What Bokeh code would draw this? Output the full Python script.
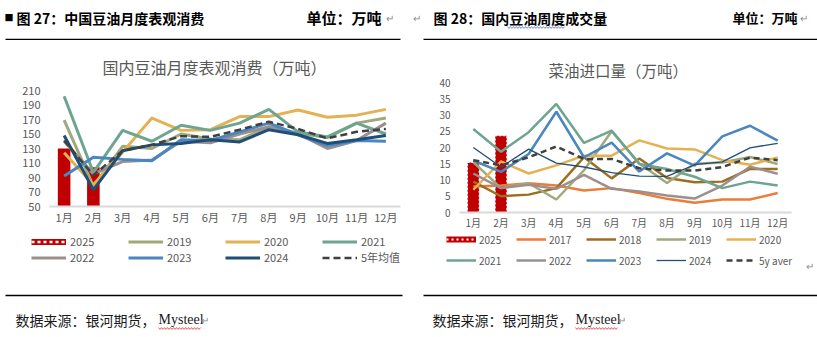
from bokeh.plotting import figure
from bokeh.layouts import column, row
from bokeh.models import Range1d, FactorRange, FixedTicker, Legend, LegendItem
from bokeh.embed import file_html
from bokeh.resources import INLINE
from bokeh.core.properties import value

FONT = "Noto Sans CJK SC"
SERIF = "Liberation Serif"
GRAY = "#595959"

months = ["1月", "2月", "3月", "4月", "5月", "6月", "7月", "8月", "9月", "10月", "11月", "12月"]

# ---------------- Figure 27: soybean oil apparent consumption ----------------
soy_title = "国内豆油月度表观消费（万吨）"
soy_yticks = [50, 70, 90, 110, 130, 150, 170, 190, 210]
soy_2025 = [130, 104]
soy_2019 = [169, 78, 133, 130, 150, 143, 142, 160, 151, 145, 165, 172]
soy_2020 = [124, 80, 125, 172, 155, 156, 174, 174, 183, 173, 176, 184]
soy_2021 = [202, 97, 155, 140, 162, 155, 165, 184, 153, 146, 165, 150]
soy_2022 = [140, 95, 112, 114, 140, 138, 150, 160, 150, 130, 141, 165]
soy_2023 = [92, 118, 115, 113, 142, 141, 153, 165, 149, 134, 141, 140]
soy_2024 = [148, 73, 127, 135, 137, 142, 139, 156, 149, 137, 142, 148]
soy_avg = [141, 93, 127, 135, 147, 146, 156, 167, 157, 144, 153, 157]
soy_avg_label = "5年均值"

# ---------------- Figure 28: rapeseed oil imports ----------------
rap_title = "菜油进口量（万吨）"
rap_yticks = [0, 5, 10, 15, 20, 25, 30, 35, 40]
rap_2025 = [15.4, 23.6]
rap_2017 = [8, 8.3, 9, 8.3, 6.8, 7.5, 6, 4.2, 3, 4, 4, 6]
rap_2018 = [9.5, 5, 5.5, 7.5, 17, 10.5, 16.6, 10.6, 9.3, 9.5, 13.4, 13.4]
rap_2019 = [15.5, 7.5, 9, 4, 13, 25, 15.1, 9.1, 15, 15.4, 17.1, 14.9]
rap_2020 = [7, 15.7, 12, 14.5, 17.5, 17.5, 22.2, 19.7, 19.4, 16.1, 14.7, 16.9]
rap_2021 = [25.7, 18.7, 24.7, 33.4, 21.4, 25.2, 14.9, 13.4, 11, 7.5, 9.5, 8.3]
rap_2022 = [12, 7.5, 8.5, 7.3, 11.6, 7.3, 6.5, 5.2, 4.3, 8.3, 14.1, 11.9]
rap_2023 = [16, 12.5, 18, 31, 17, 21.5, 12.6, 18.2, 14.4, 23.4, 26.7, 22.1]
rap_2024 = [20, 14, 19.5, 15.2, 14, 12.3, 11.2, 11.1, 14.7, 15.6, 19.9, 21.3]
rap_avg = [16.1, 14.5, 17, 20.3, 16.5, 16.5, 13.6, 12.9, 12.9, 14, 16.9, 16.1]
rap_avg_label = "5y aver"

C2017 = "#ec7c3a"
C2018 = "#9c6e1f"
C2019 = "#a0a97c"
C2020 = "#e4b153"
C2021 = "#6da590"
C2022 = "#9b8f90"
C2023 = "#4a86bf"
C2024 = "#1f4e79"
CAVG = "#404040"
CBAR = "#c00000"


def make_chart(width, height, borders, yr, yticks, fs, x_standoff, title, t_off, t_fs, t_standoff):
    p = figure(width=width, height=height,
               x_range=FactorRange(factors=months, range_padding=0),
               y_range=Range1d(*yr), output_backend="svg", toolbar_location=None,
               min_border_left=borders[0], min_border_right=borders[1],
               min_border_top=borders[2], min_border_bottom=borders[3])
    p.title.text = title
    p.title.align = "left"
    p.title.offset = t_off
    p.title.text_font = FONT
    p.title.text_font_size = t_fs
    p.title.text_font_style = "normal"
    p.title.text_color = GRAY
    try:
        p.title.standoff = t_standoff
    except Exception:
        pass
    p.xgrid.visible = False
    p.ygrid.visible = False
    p.outline_line_color = None
    p.background_fill_color = None
    p.border_fill_color = None
    for ax in (p.xaxis, p.yaxis):
        ax.major_tick_line_color = None
        ax.minor_tick_line_color = None
        ax.major_tick_out = 0
        ax.major_tick_in = 0
        ax.minor_tick_out = 0
        ax.major_label_text_font = FONT
        ax.major_label_text_font_size = fs
        ax.major_label_text_color = GRAY
    p.xaxis.axis_line_color = "#d9d9d9"
    p.xaxis.axis_line_width = 2
    p.xaxis.major_label_standoff = x_standoff
    p.yaxis.axis_line_color = None
    p.yaxis.ticker = FixedTicker(ticks=yticks)
    p.yaxis.major_label_standoff = 9
    return p


def deco(width, height, left, top):
    p = figure(width=width, height=height, x_range=Range1d(left, left + width),
               y_range=Range1d(top + height, top),
               min_border=0, toolbar_location=None, output_backend="svg",
               x_axis_location=None, y_axis_location=None)
    p.grid.visible = False
    p.outline_line_color = None
    p.border_fill_color = None
    p.background_fill_color = None
    return p


def legend_strip(width, height, left, top, entries, ncols, loc, gw, gh, standoff, lw, spacing, fs):
    p = deco(width, height, left, top)
    items = []
    for label, styles in entries:
        # one-point key renderers (draw nothing in the strip, only their legend swatch)
        rs = [p.line(x=[left - 50], y=[top - 50], **st) for st in styles]
        items.append(LegendItem(label=label, renderers=rs))
    leg = Legend(items=items, ncols=ncols, orientation="horizontal", location=loc,
                 glyph_width=gw, glyph_height=gh, label_height=gh, label_standoff=standoff,
                 label_width=lw, spacing=spacing, padding=0, margin=0,
                 border_line_color=None, background_fill_alpha=0,
                 label_text_font=FONT, label_text_font_size=fs, label_text_color=GRAY)
    p.add_layout(leg)
    return p


def squiggle(x0, x1, y):
    # spell-check style wavy underline (document decoration)
    n = int((x1 - x0) / 1.5)
    xs = [x0 + 1.5 * i for i in range(n + 1)]
    ys = [y + (0.9 if i % 2 else -0.9) for i in range(n + 1)]
    return xs, ys


# ---------- left chart ----------
pL = make_chart(410, 192, (49, 10, 50, 26), (50, 210), soy_yticks, "11px", 2,
                soy_title, 53, "16px", 24)
pL.vbar(x=months[:2], top=soy_2025, bottom=50, width=0.43, fill_color=CBAR, line_color=None)
soy_styles = {
    "2019": dict(line_color=C2019, line_width=3),
    "2020": dict(line_color=C2020, line_width=3),
    "2021": dict(line_color=C2021, line_width=3),
    "2022": dict(line_color=C2022, line_width=3),
    "2023": dict(line_color=C2023, line_width=3),
    "2024": dict(line_color=C2024, line_width=3),
    soy_avg_label: dict(line_color=CAVG, line_width=2.5, line_dash="7 4"),
}
soy_series = {"2019": soy_2019, "2020": soy_2020, "2021": soy_2021, "2022": soy_2022,
              "2023": soy_2023, "2024": soy_2024, soy_avg_label: soy_avg}
for name, ys in soy_series.items():
    pL.line(months, ys, **soy_styles[name])

bar_key_L = [dict(line_color=CBAR, line_width=6), dict(line_color="white", line_width=2.5, line_dash="3 3")]
legL = legend_strip(410, 58, 0, 232,
                    [("2025", bar_key_L)] + [(k, [soy_styles[k]]) for k in soy_series],
                    4, (31, 25), 35, 13, 4, 58, 0, "11px")

# ---------- right chart ----------
pR = make_chart(407, 192, (49, 26, 42, 16), (0, 40), rap_yticks, "10px", 2,
                rap_title, 89, "15.5px", 4)
pR.vbar(x=months[:2], top=rap_2025, width=0.42, fill_color=CBAR, line_color="white",
        line_width=1, line_dash="2 2")
rap_styles = {
    "2017": dict(line_color=C2017, line_width=2.5),
    "2018": dict(line_color=C2018, line_width=2.5),
    "2019": dict(line_color=C2019, line_width=2.5),
    "2020": dict(line_color=C2020, line_width=2.5),
    "2021": dict(line_color=C2021, line_width=2.5),
    "2022": dict(line_color=C2022, line_width=2.5),
    "2023": dict(line_color=C2023, line_width=2.5),
    "2024": dict(line_color=C2024, line_width=1.3),
    rap_avg_label: dict(line_color=CAVG, line_width=2.5, line_dash="6 4"),
}
rap_series = {"2017": rap_2017, "2018": rap_2018, "2019": rap_2019, "2020": rap_2020,
              "2021": rap_2021, "2022": rap_2022, "2023": rap_2023, "2024": rap_2024,
              rap_avg_label: rap_avg}
for name, ys in rap_series.items():
    pR.line(months, ys, **rap_styles[name])

bar_key_R = [dict(line_color=CBAR, line_width=6), dict(line_color="white", line_width=2, line_dash="2 3")]
legR = legend_strip(407, 58, 410, 232,
                    [("2025", bar_key_R)] + [(k, [rap_styles[k]]) for k in rap_series],
                    5, (36, 22), 30, 16, 3, 32, 5, "10px")
legR.text(x=[805], y=[265], text=["↵"], text_font=value(FONT), text_font_size="10px",
          text_baseline="middle", text_color="#8c8c8c")

# ---------- header (full width) ----------
hdr = deco(817, 40, 0, 0)
hdr.text(x=[4], y=[17], text=["■"], text_font=value(FONT), text_font_size="9px",
         text_baseline="middle", text_color="black")
hdr.text(x=[16, 433], y=[17, 17], text=["图 27：中国豆油月度表观消费", "图 28：国内豆油周度成交量"],
         text_font=value(FONT), text_font_size="14px", text_font_style="bold",
         text_baseline="middle", text_color="black")
hdr.text(x=[306], y=[17], text=["单位：万吨"],
         text_font=value(FONT), text_font_size="15px", text_font_style="bold",
         text_baseline="middle", text_color="black")
hdr.text(x=[732], y=[17], text=["单位：万吨"],
         text_font=value(FONT), text_font_size="13px", text_font_style="bold",
         text_baseline="middle", text_color="black")
hdr.text(x=[385, 412, 799], y=[17, 17, 17], text=["↵", "↵", "↵"], text_font=value(FONT),
         text_font_size="10px", text_baseline="middle", text_color="#8c8c8c")
hdr.segment(x0=[5, 423], y0=[39, 39], x1=[400, 817], y1=[39, 39],
            line_color="black", line_width=1.3)
wx, wy = squiggle(507, 564, 27)
hdr.line(wx, wy, line_color="#4a6fd0", line_width=0.8)

# ---------- footer (full width) ----------
ftr = deco(817, 47, 0, 290)
ftr.segment(x0=[5, 423], y0=[295, 295], x1=[402, 817], y1=[295, 295],
            line_color="black", line_width=1.3)
ftr.text(x=[15, 432], y=[319, 319], text=["数据来源：银河期货，", "数据来源：银河期货，"],
         text_font=value(FONT), text_font_size="14px", text_baseline="middle", text_color="#1a1a1a")
ftr.text(x=[158, 575], y=[319, 319], text=["Mysteel", "Mysteel"],
         text_font=value(SERIF), text_font_size="14px", text_baseline="middle", text_color="#1a1a1a")
ftr.text(x=[200, 617], y=[319, 319], text=["↵", "↵"], text_font=value(FONT),
         text_font_size="10px", text_baseline="middle", text_color="#8c8c8c")
for a, b in ((158, 200), (575, 617)):
    sx, sy = squiggle(a, b, 328)
    ftr.line(sx, sy, line_color="#e03030", line_width=0.8)

charts = row(column(pL), column(pR), spacing=0)
legends = row(legL, legR, spacing=0)
layout = column(hdr, charts, legends, ftr, spacing=0)
open("out.html", "w").write(file_html(layout, INLINE))
